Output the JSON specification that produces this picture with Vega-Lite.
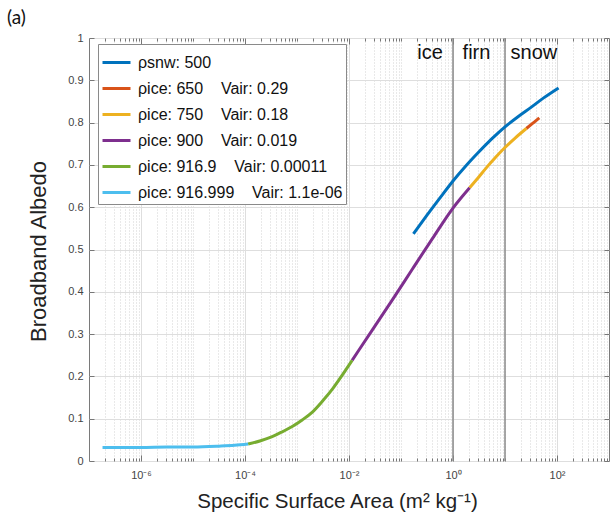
{
  "$schema": "https://vega.github.io/schema/vega-lite/v6.json",
  "width": 520,
  "height": 423,
  "autosize": {"type": "none"},
  "padding": {"left": 89, "top": 38, "right": 2, "bottom": 60},
  "background": "white",
  "title": {"text": "(a)", "anchor": "start", "frame": "group", "dx": -82, "dy": 27, "offset": 12, "baseline": "bottom", "fontSize": 19, "font": "Lato", "fontWeight": "normal", "color": "#111"},
  "config": {
    "view": {"stroke": "#7a7a7a", "strokeWidth": 1},
    "font": "Liberation Sans"
  },
  "datasets": {
    "boundaries": [{"ssa": 1}, {"ssa": 10}],
    "zones": [
      {"label": "ice", "ssa": 0.363, "albedo": 0.9645},
      {"label": "firn", "ssa": 2.83, "albedo": 0.9645},
      {"label": "snow", "ssa": 36, "albedo": 0.9645}
    ],
    "curves": [
      {"series": "ρsnw: 500", "ssa": 0.1738, "albedo": 0.537},
      {"series": "ρsnw: 500", "ssa": 0.3162, "albedo": 0.581},
      {"series": "ρsnw: 500", "ssa": 0.5623, "albedo": 0.622},
      {"series": "ρsnw: 500", "ssa": 1, "albedo": 0.662},
      {"series": "ρsnw: 500", "ssa": 1.778, "albedo": 0.698},
      {"series": "ρsnw: 500", "ssa": 3.162, "albedo": 0.731},
      {"series": "ρsnw: 500", "ssa": 5.623, "albedo": 0.762},
      {"series": "ρsnw: 500", "ssa": 10, "albedo": 0.79},
      {"series": "ρsnw: 500", "ssa": 17.78, "albedo": 0.814},
      {"series": "ρsnw: 500", "ssa": 31.62, "albedo": 0.836},
      {"series": "ρsnw: 500", "ssa": 56.23, "albedo": 0.859},
      {"series": "ρsnw: 500", "ssa": 107.2, "albedo": 0.882},

      {"series": "ρice: 650\u00a0\u00a0\u00a0\u00a0Vair: 0.29", "ssa": 25.7, "albedo": 0.786},
      {"series": "ρice: 650\u00a0\u00a0\u00a0\u00a0Vair: 0.29", "ssa": 35.48, "albedo": 0.8},
      {"series": "ρice: 650\u00a0\u00a0\u00a0\u00a0Vair: 0.29", "ssa": 45.7, "albedo": 0.811},

      {"series": "ρice: 750\u00a0\u00a0\u00a0\u00a0Vair: 0.18", "ssa": 2.089, "albedo": 0.646},
      {"series": "ρice: 750\u00a0\u00a0\u00a0\u00a0Vair: 0.18", "ssa": 3.162, "albedo": 0.672},
      {"series": "ρice: 750\u00a0\u00a0\u00a0\u00a0Vair: 0.18", "ssa": 4.365, "albedo": 0.693},
      {"series": "ρice: 750\u00a0\u00a0\u00a0\u00a0Vair: 0.18", "ssa": 6.607, "albedo": 0.718},
      {"series": "ρice: 750\u00a0\u00a0\u00a0\u00a0Vair: 0.18", "ssa": 10, "albedo": 0.741},
      {"series": "ρice: 750\u00a0\u00a0\u00a0\u00a0Vair: 0.18", "ssa": 15.85, "albedo": 0.764},
      {"series": "ρice: 750\u00a0\u00a0\u00a0\u00a0Vair: 0.18", "ssa": 25.7, "albedo": 0.786},

      {"series": "ρice: 900\u00a0\u00a0\u00a0\u00a0Vair: 0.019", "ssa": 0.01148, "albedo": 0.238},
      {"series": "ρice: 900\u00a0\u00a0\u00a0\u00a0Vair: 0.019", "ssa": 0.02818, "albedo": 0.31},
      {"series": "ρice: 900\u00a0\u00a0\u00a0\u00a0Vair: 0.019", "ssa": 0.06918, "albedo": 0.382},
      {"series": "ρice: 900\u00a0\u00a0\u00a0\u00a0Vair: 0.019", "ssa": 0.166, "albedo": 0.454},
      {"series": "ρice: 900\u00a0\u00a0\u00a0\u00a0Vair: 0.019", "ssa": 0.4074, "albedo": 0.527},
      {"series": "ρice: 900\u00a0\u00a0\u00a0\u00a0Vair: 0.019", "ssa": 1, "albedo": 0.598},
      {"series": "ρice: 900\u00a0\u00a0\u00a0\u00a0Vair: 0.019", "ssa": 2.089, "albedo": 0.646},

      {"series": "ρice: 916.9\u00a0\u00a0\u00a0\u00a0Vair: 0.00011", "ssa": 0.0001148, "albedo": 0.04},
      {"series": "ρice: 916.9\u00a0\u00a0\u00a0\u00a0Vair: 0.00011", "ssa": 0.0002, "albedo": 0.048},
      {"series": "ρice: 916.9\u00a0\u00a0\u00a0\u00a0Vair: 0.00011", "ssa": 0.000324, "albedo": 0.057},
      {"series": "ρice: 916.9\u00a0\u00a0\u00a0\u00a0Vair: 0.00011", "ssa": 0.000501, "albedo": 0.068},
      {"series": "ρice: 916.9\u00a0\u00a0\u00a0\u00a0Vair: 0.00011", "ssa": 0.000794, "albedo": 0.081},
      {"series": "ρice: 916.9\u00a0\u00a0\u00a0\u00a0Vair: 0.00011", "ssa": 0.001259, "albedo": 0.097},
      {"series": "ρice: 916.9\u00a0\u00a0\u00a0\u00a0Vair: 0.00011", "ssa": 0.00195, "albedo": 0.115},
      {"series": "ρice: 916.9\u00a0\u00a0\u00a0\u00a0Vair: 0.00011", "ssa": 0.00316, "albedo": 0.143},
      {"series": "ρice: 916.9\u00a0\u00a0\u00a0\u00a0Vair: 0.00011", "ssa": 0.00479, "albedo": 0.17},
      {"series": "ρice: 916.9\u00a0\u00a0\u00a0\u00a0Vair: 0.00011", "ssa": 0.00741, "albedo": 0.203},
      {"series": "ρice: 916.9\u00a0\u00a0\u00a0\u00a0Vair: 0.00011", "ssa": 0.01148, "albedo": 0.238},

      {"series": "ρice: 916.999\u00a0\u00a0\u00a0\u00a0Vair: 1.1e-06", "ssa": 0.000000182, "albedo": 0.032},
      {"series": "ρice: 916.999\u00a0\u00a0\u00a0\u00a0Vair: 1.1e-06", "ssa": 0.000000316, "albedo": 0.032},
      {"series": "ρice: 916.999\u00a0\u00a0\u00a0\u00a0Vair: 1.1e-06", "ssa": 0.000001, "albedo": 0.032},
      {"series": "ρice: 916.999\u00a0\u00a0\u00a0\u00a0Vair: 1.1e-06", "ssa": 0.00000316, "albedo": 0.033},
      {"series": "ρice: 916.999\u00a0\u00a0\u00a0\u00a0Vair: 1.1e-06", "ssa": 0.00001, "albedo": 0.033},
      {"series": "ρice: 916.999\u00a0\u00a0\u00a0\u00a0Vair: 1.1e-06", "ssa": 0.0000316, "albedo": 0.035},
      {"series": "ρice: 916.999\u00a0\u00a0\u00a0\u00a0Vair: 1.1e-06", "ssa": 0.0000631, "albedo": 0.037},
      {"series": "ρice: 916.999\u00a0\u00a0\u00a0\u00a0Vair: 1.1e-06", "ssa": 0.0001148, "albedo": 0.04}
    ]
  },
  "layer": [
    {
      "data": {"name": "boundaries"},
      "mark": {"type": "rule", "color": "#8a8a8a", "strokeWidth": 1.5},
      "encoding": {
        "x": {
          "field": "ssa", "type": "quantitative",
          "scale": {"type": "log", "domain": [1e-7, 1000]},
          "axis": {
            "orient": "top", "title": null, "labels": false, "grid": false, "domain": false,
            "values": [2e-7,3e-7,4e-7,5e-7,6e-7,7e-7,8e-7,9e-7,1e-6,2e-6,3e-6,4e-6,5e-6,6e-6,7e-6,8e-6,9e-6,1e-5,2e-5,3e-5,4e-5,5e-5,6e-5,7e-5,8e-5,9e-5,1e-4,2e-4,3e-4,4e-4,5e-4,6e-4,7e-4,8e-4,9e-4,0.001,0.002,0.003,0.004,0.005,0.006,0.007,0.008,0.009,0.01,0.02,0.03,0.04,0.05,0.06,0.07,0.08,0.09,0.1,0.2,0.3,0.4,0.5,0.6,0.7,0.8,0.9,1,2,3,4,5,6,7,8,9,10,20,30,40,50,60,70,80,90,100,200,300,400,500,600,700,800,900],
            "tickColor": "#777",
            "tickSize": {"condition": {"test": "abs(log(datum.value)/LN10 - round(log(datum.value)/LN10)) < 1e-6 && round(log(datum.value)/LN10) % 2 == 0", "value": -6}, "value": -3}
          }
        }
      }
    },
    {
      "data": {"name": "curves"},
      "mark": {"type": "line", "strokeWidth": 3, "strokeCap": "butt", "interpolate": "monotone"},
      "encoding": {
        "x": {
          "field": "ssa", "type": "quantitative",
          "scale": {"type": "log", "domain": [1e-7, 1000]},
          "axis": {
            "orient": "bottom",
            "title": "Specific Surface Area (m² kg⁻¹)",
            "titleFontSize": 20.5, "titleFontWeight": "normal", "titleColor": "#222", "titlePadding": 8,
            "titleX": 248, "titleAlign": "center",
            "domain": false,
            "values": [2e-7,3e-7,4e-7,5e-7,6e-7,7e-7,8e-7,9e-7,1e-6,2e-6,3e-6,4e-6,5e-6,6e-6,7e-6,8e-6,9e-6,1e-5,2e-5,3e-5,4e-5,5e-5,6e-5,7e-5,8e-5,9e-5,1e-4,2e-4,3e-4,4e-4,5e-4,6e-4,7e-4,8e-4,9e-4,0.001,0.002,0.003,0.004,0.005,0.006,0.007,0.008,0.009,0.01,0.02,0.03,0.04,0.05,0.06,0.07,0.08,0.09,0.1,0.2,0.3,0.4,0.5,0.6,0.7,0.8,0.9,1,2,3,4,5,6,7,8,9,10,20,30,40,50,60,70,80,90,100,200,300,400,500,600,700,800,900],
            "labelExpr": "abs(log(datum.value)/LN10 - round(log(datum.value)/LN10)) > 1e-6 ? '' : (round(log(datum.value)/LN10) == -6 ? '10⁻⁶' : round(log(datum.value)/LN10) == -4 ? '10⁻⁴' : round(log(datum.value)/LN10) == -2 ? '10⁻²' : round(log(datum.value)/LN10) == 0 ? '10⁰' : round(log(datum.value)/LN10) == 2 ? '10²' : '')",
            "labelFontSize": 11, "labelColor": "#444", "labelPadding": 14, "labelOverlap": false, "labelFlush": false,
            "tickColor": "#777",
            "tickSize": {"condition": {"test": "abs(log(datum.value)/LN10 - round(log(datum.value)/LN10)) < 1e-6 && round(log(datum.value)/LN10) % 2 == 0", "value": -6}, "value": -3},
            "grid": true,
            "gridColor": {"condition": {"test": "abs(log(datum.value)/LN10 - round(log(datum.value)/LN10)) < 1e-6 && round(log(datum.value)/LN10) % 2 == 0", "value": "#dedede"}, "value": "#d2d2d2"},
            "gridDash": {"condition": {"test": "abs(log(datum.value)/LN10 - round(log(datum.value)/LN10)) < 1e-6 && round(log(datum.value)/LN10) % 2 == 0", "value": []}, "value": [1, 2]}
          }
        },
        "y": {
          "field": "albedo", "type": "quantitative",
          "scale": {"domain": [0, 1], "nice": false},
          "axis": {
            "orient": "left",
            "title": "Broadband Albedo",
            "titleFontSize": 22, "titleFontWeight": "normal", "titleColor": "#222", "titlePadding": 17,
            "titleY": 213, "titleAlign": "center",
            "domain": false,
            "values": [0, 0.1, 0.2, 0.3, 0.4, 0.5, 0.6, 0.7, 0.8, 0.9, 1],
            "format": "~g",
            "labelFontSize": 11, "labelColor": "#444", "labelPadding": 11,
            "tickColor": "#777", "tickSize": -5,
            "grid": true, "gridColor": "#dedede"
          }
        },
        "color": {
          "field": "series", "type": "nominal",
          "scale": {
            "domain": ["ρsnw: 500", "ρice: 650\u00a0\u00a0\u00a0\u00a0Vair: 0.29", "ρice: 750\u00a0\u00a0\u00a0\u00a0Vair: 0.18", "ρice: 900\u00a0\u00a0\u00a0\u00a0Vair: 0.019", "ρice: 916.9\u00a0\u00a0\u00a0\u00a0Vair: 0.00011", "ρice: 916.999\u00a0\u00a0\u00a0\u00a0Vair: 1.1e-06"],
            "range": ["#0072BD", "#D95319", "#EDB120", "#7E2F8E", "#77AC30", "#4DBEEE"]
          },
          "legend": {
            "orient": "none", "legendX": 9, "legendY": 6,
            "title": null, "titlePadding": 0,
            "symbolType": "stroke", "symbolSize": 784, "symbolStrokeWidth": 3,
            "labelFontSize": 16, "labelColor": "#111", "labelLimit": 360, "labelOffset": 6,
            "strokeColor": "#8a8a8a", "fillColor": "white", "padding": 3, "rowPadding": 2
          }
        }
      }
    },
    {
      "data": {"name": "zones"},
      "mark": {"type": "text", "fontSize": 20, "baseline": "middle", "align": "center", "color": "#111"},
      "encoding": {
        "x": {"field": "ssa", "type": "quantitative", "scale": {"type": "log", "domain": [1e-7, 1000]}, "axis": null},
        "y": {
          "field": "albedo", "type": "quantitative",
          "scale": {"domain": [0, 1], "nice": false},
          "axis": {"orient": "right", "title": null, "labels": false, "grid": false, "domain": false,
                   "values": [0, 0.1, 0.2, 0.3, 0.4, 0.5, 0.6, 0.7, 0.8, 0.9, 1],
                   "tickColor": "#777", "tickSize": -5}
        },
        "text": {"field": "label"}
      }
    }
  ],
  "resolve": {"axis": {"x": "independent", "y": "independent"}}
}
